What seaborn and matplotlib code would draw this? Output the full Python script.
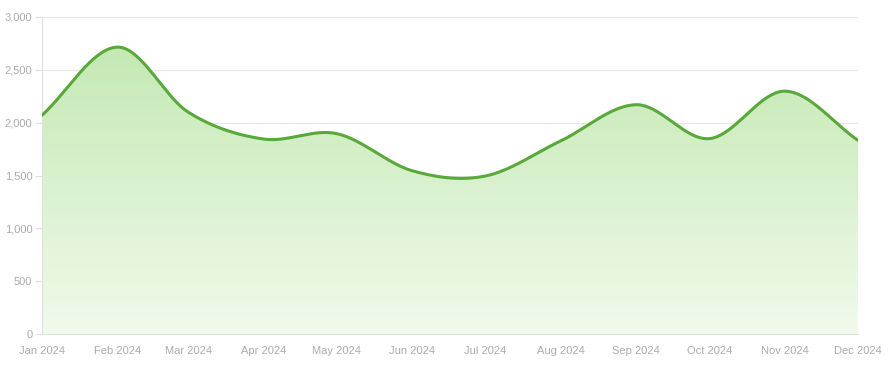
import numpy as np
import pandas as pd
import matplotlib
matplotlib.use('Agg')
import matplotlib.pyplot as plt
import matplotlib.dates as mdates
from matplotlib.colors import LinearSegmentedColormap
import seaborn as sns

# Monthly values
months = ['2024-01-01', '2024-02-01', '2024-03-01', '2024-04-01', '2024-05-01', '2024-06-01',
          '2024-07-01', '2024-08-01', '2024-09-01', '2024-10-01', '2024-11-01', '2024-12-01']
values = [2070, 2715, 2100, 1845, 1896, 1545, 1495, 1828, 2170, 1849, 2298, 1833]
tick_labels = ['Jan 2024', 'Feb 2024', 'Mar 2024', 'Apr 2024', 'May 2024', 'Jun 2024',
               'Jul 2024', 'Aug 2024', 'Sep 2024', 'Oct 2024', 'Nov 2024', 'Dec 2024']
y_ticks = [0, 500, 1000, 1500, 2000, 2500, 3000]

line_color = '#58a83a'
label_color = '#acacac'

df = pd.DataFrame({'date': pd.to_datetime(months), 'value': values})
x = mdates.date2num(df['date'])
y = df['value'].to_numpy(dtype=float)

# smooth drawing path (cubic Hermite with Catmull-Rom tangents)
def smooth(x, y, n=40):
    m = np.zeros_like(y)
    m[1:-1] = (y[2:] - y[:-2]) / (x[2:] - x[:-2])
    m[0] = (y[1] - y[0]) / (x[1] - x[0])
    m[-1] = (y[-1] - y[-2]) / (x[-1] - x[-2])
    xs, ys = [], []
    for i in range(len(x) - 1):
        h = x[i + 1] - x[i]
        t = np.linspace(0, 1, n, endpoint=False)
        h00 = 2 * t**3 - 3 * t**2 + 1
        h10 = t**3 - 2 * t**2 + t
        h01 = -2 * t**3 + 3 * t**2
        h11 = t**3 - t**2
        xs.append(x[i] + t * h)
        ys.append(h00 * y[i] + h10 * h * m[i] + h01 * y[i + 1] + h11 * h * m[i + 1])
    xs.append([x[-1]])
    ys.append([y[-1]])
    return np.concatenate(xs), np.concatenate(ys)

xs, ys = smooth(x, y)
smooth_df = pd.DataFrame({'x': xs, 'y': ys})

sns.set_theme(style='white')
plt.rcParams['font.family'] = ['Liberation Sans', 'DejaVu Sans']

fig = plt.figure(figsize=(8.89, 3.68), dpi=100)
ax = fig.add_axes([42 / 889, 1 - 334 / 368, 816 / 889, 317 / 368])

# gradient fill under the curve
cmap = LinearSegmentedColormap.from_list('g', ['#f1faec', '#c4e9b3'])
grad = np.linspace(0, 1, 256).reshape(-1, 1)
im = ax.imshow(grad, cmap=cmap, aspect='auto', origin='lower',
               extent=[x[0], x[-1], 0, max(values)], zorder=1)
poly = ax.fill_between(xs, ys, 0, color='none', lw=0)
path = poly.get_paths()[0]
im.set_clip_path(path, transform=ax.transData)

sns.lineplot(data=smooth_df, x='x', y='y', ax=ax, color=line_color, linewidth=2.2,
             zorder=3, sort=False)

ax.set_xlim(x[0], x[-1])
ax.set_ylim(0, 3000)
ax.set_xticks(x)
ax.set_xticklabels(tick_labels)
ax.set_yticks(y_ticks)
ax.set_yticklabels([f'{v:,}' for v in y_ticks])
ax.set_xlabel('')
ax.set_ylabel('')

ax.grid(axis='y', color='#e6e6e6', linewidth=0.8, zorder=0)
ax.set_axisbelow(True)
for side in ['top', 'right']:
    ax.spines[side].set_visible(False)
for side in ['left', 'bottom']:
    ax.spines[side].set_color('#e0e0e0')
    ax.spines[side].set_linewidth(0.8)

ax.tick_params(axis='x', length=0, pad=9, labelsize=8, colors=label_color)
ax.tick_params(axis='y', length=5, width=0.8, color='#e0e0e0', pad=2,
               labelsize=8, labelcolor=label_color, left=True)

fig.savefig('out.png', dpi=100)
